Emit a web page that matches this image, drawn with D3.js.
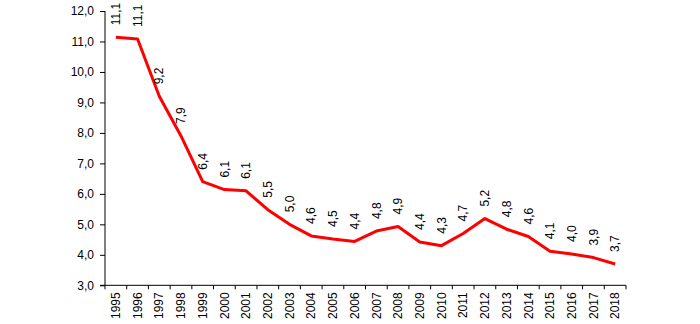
<!DOCTYPE html>
<html><head><meta charset="utf-8">
<script src="https://cdn.jsdelivr.net/npm/d3@7"></script>
<style>
html,body{margin:0;padding:0;background:#fff;}
svg{display:block;font-family:"Liberation Sans",Arial,sans-serif;}
</style></head>
<body>
<svg id="chart" width="700" height="324"></svg>
<script>
const years = ["1995","1996","1997","1998","1999","2000","2001","2002","2003","2004","2005","2006","2007","2008","2009","2010","2011","2012","2013","2014","2015","2016","2017","2018"];
const values = [11.14,11.08,9.2,7.9,6.4,6.14,6.1,5.48,5.0,4.62,4.52,4.44,4.78,4.93,4.42,4.3,4.7,5.19,4.84,4.6,4.12,4.03,3.91,3.7];
const yTicks = [3,4,5,6,7,8,9,10,11,12];

const svg = d3.select("#chart");
const x = d3.scaleBand().domain(years).range([105, 626]).padding(0);
const y = d3.scaleLinear().domain([3, 12]).range([285.3, 11]);
const fmt = v => d3.format(".1f")(v).replace(".", ",");

// Y axis
const yAxis = svg.append("g").attr("transform", "translate(105,0)")
  .call(d3.axisLeft(y).tickValues(yTicks).tickSize(5).tickPadding(6).tickFormat(fmt));
yAxis.attr("font-family", null).attr("font-size", null);
yAxis.selectAll("text").attr("font-size", 12).attr("fill", "#000");
yAxis.selectAll("line,path").attr("stroke", "#000");
yAxis.select(".domain").attr("d", "M0,285.3V11");

// X axis with ticks at band boundaries
const xg = svg.append("g").attr("transform", "translate(0,285.3)");
xg.append("line").attr("x1", 100).attr("x2", x.range()[1]).attr("stroke", "#000");
const bounds = years.map(d => x(d)).concat([x.range()[1]]);
xg.selectAll("line.tk").data(bounds).enter().append("line")
  .attr("class", "tk").attr("x1", d => d).attr("x2", d => d).attr("y1", 0).attr("y2", 4).attr("stroke", "#000");
xg.selectAll("text").data(years).enter().append("text")
  .attr("transform", d => `translate(${x(d) + x.bandwidth()/2},7) rotate(-90)`)
  .attr("text-anchor", "end").attr("dy", "0.35em")
  .attr("font-size", 12).attr("fill", "#000").text(d => d);

// Line
const line = d3.line().x((d, i) => x(years[i]) + x.bandwidth()/2).y(d => y(d));
svg.append("path").datum(values).attr("d", line)
  .attr("fill", "none").attr("stroke", "#ff0000").attr("stroke-width", 3).attr("stroke-linejoin", "round");

// Data labels
svg.selectAll("text.lbl").data(values).enter().append("text")
  .attr("class", "lbl")
  .attr("transform", (d, i) => `translate(${x(years[i]) + x.bandwidth()/2},${y(d) - 12}) rotate(-90)`)
  .attr("text-anchor", "start").attr("dy", "0.35em")
  .attr("font-size", 12).attr("fill", "#000").text(d => fmt(d));
</script>
</body></html>
